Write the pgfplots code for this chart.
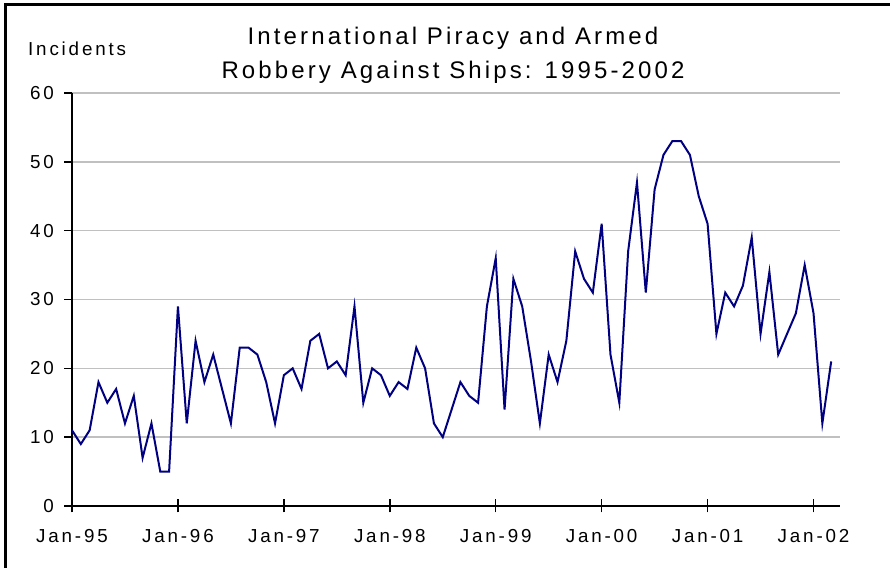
\documentclass[border=0pt]{standalone}
\usepackage{pgfplots}
\pgfplotsset{compat=1.18}
\usepackage{fontspec}
\setmainfont{Liberation Sans}
\newfontfamily\tickfont[LetterSpace=15]{Liberation Sans}
\newfontfamily\titlefont[LetterSpace=13]{Liberation Sans}
\definecolor{navyline}{RGB}{0,0,128}
\definecolor{gridgray}{RGB}{192,192,192}
\pgfplotstableread{
x y
0 11
1 9
2 11
3 18
4 15
5 17
6 12
7 16
8 7
9 12
10 5
11 5
12 29
13 12
14 24
15 18
16 22
17 17
18 12
19 23
20 23
21 22
22 18
23 12
24 19
25 20
26 17
27 24
28 25
29 20
30 21
31 19
32 29
33 15
34 20
35 19
36 16
37 18
38 17
39 23
40 20
41 12
42 10
43 14
44 18
45 16
46 15
47 29
48 36
49 14
50 33
51 29
52 21
53 12
54 22
55 18
56 24
57 37
58 33
59 31
60 41
61 22
62 15
63 37
64 47
65 31
66 46
67 51
68 53
69 53
70 51
71 45
72 41
73 25
74 31
75 29
76 32
77 39
78 25
79 34
80 22
81 25
82 28
83 35
84 28
85 12
86 21
}\piracy
\begin{document}
\begin{tikzpicture}[x=1bp,y=1bp]
\useasboundingbox (0,0) rectangle (890,568);
\fill[white] (0,0) rectangle (890,568);
\draw[line width=3.5bp] (5.3,0) -- (5.3,563.3) -- (890,563.3);
\node[anchor=base, inner sep=0pt, font=\titlefont\fontsize{24bp}{28bp}\selectfont] at (453,523) {International Piracy and Armed};
\node[anchor=base, inner sep=0pt, font=\titlefont\fontsize{24bp}{28bp}\selectfont] at (453,489) {Robbery Against Ships: 1995-2002};
\node[anchor=base west, inner sep=0pt, font=\tickfont\fontsize{18.8bp}{22bp}\selectfont] at (28,512) {Incidents};
\begin{axis}[
  at={(72bp,62bp)}, anchor=origin,
  scale only axis, width=768bp, height=413bp,
  xmin=0, xmax=87, ymin=0, ymax=60,
  axis x line*=bottom, axis y line*=left,
  axis line style={black, line width=1.8bp},
  ytick={0,10,20,30,40,50,60},
  yticklabels={0,10,20,30,40,50,60},
  xtick=\empty,
  extra x ticks={0,12,24,36,48,60,72,84},
  extra x tick labels={Jan-95,Jan-96,Jan-97,Jan-98,Jan-99,Jan-00,Jan-01,Jan-02},
  extra x tick style={tick align=center, major tick length=13bp, grid=none,
     tick style={black, line width=1.5bp}},
  tick align=outside, major tick length=8bp,
  tick style={black, line width=1.5bp},
  ymajorgrids, grid style={gridgray, line width=1.5bp},
  yticklabel style={font=\tickfont\fontsize{18.8bp}{22bp}\selectfont, inner sep=0pt, xshift=-10bp},
  xticklabel style={font=\tickfont\fontsize{18.8bp}{22bp}\selectfont, inner sep=0pt, yshift=-16.5bp},
  clip=false,
]
\addplot[navyline, line width=2bp, mark=none] table[x=x, y=y] {\piracy};
\end{axis}
\end{tikzpicture}
\end{document}
